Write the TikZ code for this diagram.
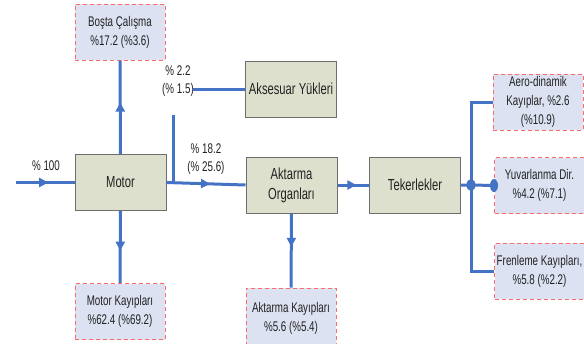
\documentclass[tikz,border=0pt]{standalone}
\usepackage{fontspec}
\setmainfont{Liberation Sans}[FakeStretch=0.7]
\usetikzlibrary{arrows.meta,decorations.markings}
\definecolor{flow}{HTML}{4472C4}
\definecolor{boxfill}{HTML}{DDE0CC}
\definecolor{boxline}{HTML}{6E6E6E}
\definecolor{lossfill}{HTML}{DCE2F1}
\definecolor{lossline}{HTML}{FF6B6B}
\definecolor{txt}{HTML}{222222}
\begin{document}
\begin{tikzpicture}[x=1pt,y=-1pt,
  mainbox/.style={draw=boxline, fill=boxfill, line width=1pt, minimum width=91pt, minimum height=56pt, inner sep=0pt, align=center, text=txt, font=\fontsize{16}{20}\selectfont},
  lossbox/.style={draw=lossline, fill=lossfill, line width=1pt, dash pattern=on 4pt off 3pt, minimum width=90pt, minimum height=56pt, inner sep=0pt, align=center, text=txt, font=\fontsize{14}{19}\selectfont},
  flowline/.style={draw=flow, line width=3pt},
  midarrow/.style={flowline, postaction={decorate}, decoration={markings, mark=at position #1 with {\arrow[flow]{Triangle[length=9pt 0 0,width=9pt 0 0]}}}},
  midarrow/.default=0.55,
  lbl/.style={font=\fontsize{14}{18}\selectfont, inner sep=0pt, text=txt, align=center}
]
\useasboundingbox (0,0) rectangle (584,343);
\fill[white] (0,0) rectangle (584,343);

% main boxes
\node[mainbox] (motor) at (120.5,182.5) {Motor};
\node[mainbox] (aks) at (291,89) {Aksesuar Yükleri};
\node[mainbox] (akt) at (291.5,185) {Aktarma\\Organları};
\node[mainbox] (tek) at (415,185) {Tekerlekler};

% loss boxes
\node[lossbox] (bosta) at (120,32) {Boşta Çalışma\\\%17.2 (\%3.6)};
\node[lossbox] (motk) at (120,311.5) {Motor Kayıpları\\\%62.4 (\%69.2)};
\node[lossbox, minimum height=60pt] (aktk) at (291,318) {Aktarma Kayıpları\\\%5.6 (\%5.4)};
\node[lossbox] (aero) at (538,102) {Aero-dinamik\\Kayıplar, \%2.6\\(\%10.9)};
\node[lossbox] (yuv) at (539.5,185.5) {Yuvarlanma Dir.\\\%4.2 (\%7.1)};
\node[lossbox] (fren) at (539.5,271) {Frenleme Kayıpları,\\\%5.8 (\%2.2)};

% labels
\node[lbl] (l100) at (46,166) {\% 100};
\node[lbl] (l22) at (178,81) {\% 2.2\\(\% 1.5)};
\node[lbl] (l182) at (206,159) {\% 18.2\\(\% 25.6)};

% connectors
\coordinate (in) at (16,182.5);
\draw[midarrow] (in) -- (motor.west);
\draw[midarrow] (motor.north) -- (bosta.south);
\draw[midarrow] (motor.south) -- (motk.north);
\draw[midarrow] (motor.east) -- (akt.west);
\coordinate (br) at (173,115);
\draw[flowline] (br) -- (br |- motor.east);
\coordinate (ak0) at (193,89);
\draw[flowline] (ak0) -- (aks.west);
\draw[midarrow=0.6] (akt.east) -- (tek.west);
\draw[midarrow=0.45] (akt.south) -- (aktk.north);
\coordinate (j) at (471,185);
\draw[flowline] (tek.east) -- (j) -- (yuv.west);
\draw[flowline] (aero.west) -| (j) |- (fren.west);
\fill[flow] (j) ellipse (4.5 and 6);
\fill[flow] (yuv.west) ellipse (4 and 6.5);
\end{tikzpicture}
\end{document}
